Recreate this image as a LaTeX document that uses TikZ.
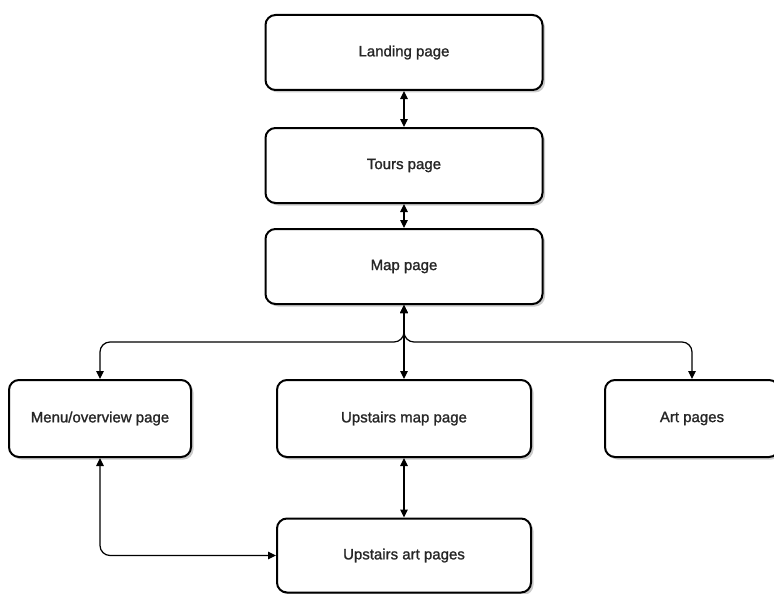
\documentclass[tikz,border=0pt]{standalone}
\usepackage{fontspec}
\setmainfont{Liberation Sans}[FakeBold=0]
\newfontfamily\boxfont{Liberation Sans}[FakeBold=1.2]
\usetikzlibrary{arrows.meta,shadows}
\begin{document}
\begin{tikzpicture}[x=1pt,y=1pt,
  pagebox/.style={draw=black, line width=2pt, rounded corners=10pt, fill=white,
    drop shadow={shadow xshift=2.5pt, shadow yshift=-2.5pt, fill=black!45, opacity=0.45},
    font=\boxfont\fontsize{15}{18}\selectfont, text=black!85, inner sep=0pt, anchor=center},
  conn/.style={draw=black, line width=1.2pt, {Triangle[length=8pt,width=7.5pt]}-{Triangle[length=8pt,width=7.5pt]}},
]
\useasboundingbox (0,0) rectangle (774,-594);
\clip (0,0) rectangle (774,-594);
\node[pagebox, minimum width=277, minimum height=75] (landing) at (404,-52.5) {Landing page};
\node[pagebox, minimum width=277, minimum height=75] (tours) at (404,-165.5) {Tours page};
\node[pagebox, minimum width=277, minimum height=75] (map) at (404,-266.5) {Map page};
\node[pagebox, minimum width=182, minimum height=77] (menu) at (100,-418.5) {Menu/overview page};
\node[pagebox, minimum width=254, minimum height=77] (upmap) at (404,-418.5) {Upstairs map page};
\node[pagebox, minimum width=174, minimum height=77] (art) at (692,-418.5) {Art pages};
\node[pagebox, minimum width=254, minimum height=74] (upart) at (404,-555.5) {Upstairs art pages};
\coordinate (br) at (0,-342);
\draw[conn] (landing.south) -- (tours.north);
\draw[conn] (tours.south) -- (map.north);
\draw[conn] (map.south) -- (upmap.north);
\draw[conn, rounded corners=10pt] (map.south) |- (menu.north |- br) -- (menu.north);
\draw[conn, rounded corners=10pt] (map.south) |- (art.north |- br) -- (art.north);
\draw[conn] (upmap.south) -- (upart.north);
\draw[conn, rounded corners=10pt] (menu.south) |- (upart.west);
\end{tikzpicture}
\end{document}
